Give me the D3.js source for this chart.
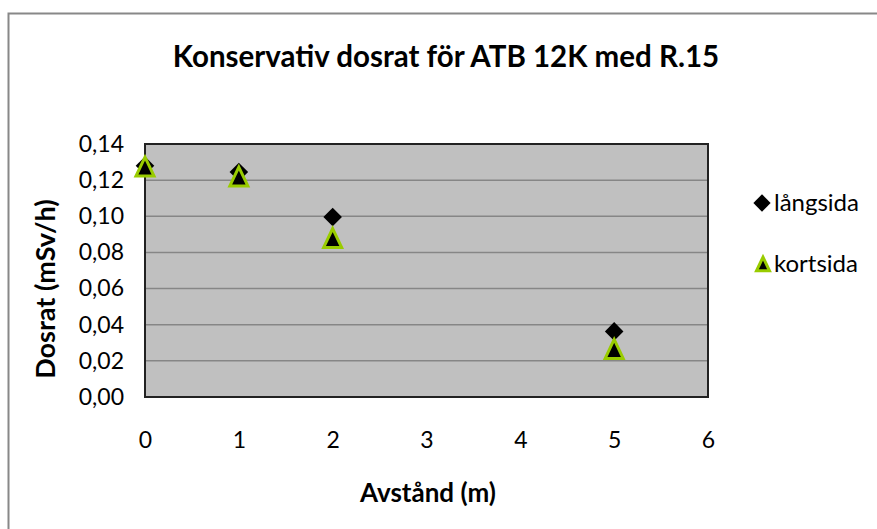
<!DOCTYPE html>
<html>
<head>
<meta charset="utf-8">
<script src="https://cdn.jsdelivr.net/npm/d3@7"></script>
<style>
body { margin:0; background:#fff; }
text { font-family: Lato, "Open Sans", sans-serif; }
</style>
</head>
<body>
<div id="chart"></div>
<script>
var width = 877;
var height = 529;

var distances = [0, 1, 2, 5];
var langsida = [0.128, 0.1245, 0.0996, 0.0363];
var kortsida = [0.1275, 0.122, 0.088, 0.0266];
var yTicks = [0, 0.02, 0.04, 0.06, 0.08, 0.10, 0.12, 0.14];
var xTicks = [0, 1, 2, 3, 4, 5, 6];
var seriesNames = ["långsida", "kortsida"];

var svg = d3.select("#chart").append("svg")
    .attr("width", width)
    .attr("height", height);

// outer chart border
svg.append("rect")
    .attr("x", 8.5).attr("y", 13.5)
    .attr("width", 880).attr("height", 530)
    .attr("fill", "#fff")
    .attr("stroke", "#888").attr("stroke-width", 2);

var xScale = d3.scaleLinear().domain([0, 6]).range([145, 708]);
var yScale = d3.scaleLinear().domain([0, 0.14]).range([397, 144]);

// plot area
svg.append("rect")
    .attr("x", xScale(0)).attr("y", yScale(0.14))
    .attr("width", xScale(6) - xScale(0))
    .attr("height", yScale(0) - yScale(0.14))
    .attr("fill", "#c0c0c0");

// gridlines
svg.selectAll(".grid")
    .data(yTicks.slice(1, -1))
    .enter().append("line")
    .attr("x1", xScale(0)).attr("x2", xScale(6))
    .attr("y1", function(d) { return yScale(d); })
    .attr("y2", function(d) { return yScale(d); })
    .attr("stroke", "#868686").attr("stroke-width", 1.5);

svg.append("rect")
    .attr("x", xScale(0)).attr("y", yScale(0.14))
    .attr("width", xScale(6) - xScale(0))
    .attr("height", yScale(0) - yScale(0.14))
    .attr("fill", "none")
    .attr("stroke", "#222").attr("stroke-width", 2);

// y axis
var yAxis = d3.axisLeft(yScale).tickValues(yTicks).tickSize(0).tickPadding(21)
    .tickFormat(function(d) { return d3.format(".2f")(d).replace(".", ","); });
var gy = svg.append("g").attr("transform", "translate(" + xScale(0) + ",0)").call(yAxis);
gy.select(".domain").remove();
gy.selectAll("text").style("font-size", "23px").attr("fill", "#000")
    .style("font-family", "Lato, sans-serif");

// x axis
var xAxis = d3.axisBottom(xScale).tickValues(xTicks).tickSize(0).tickPadding(35)
    .tickFormat(d3.format("d"));
var gx = svg.append("g").attr("transform", "translate(0," + yScale(0) + ")").call(xAxis);
gx.select(".domain").remove();
gx.selectAll("text").style("font-size", "23px").attr("fill", "#000")
    .style("font-family", "Lato, sans-serif");

// title and labels
svg.append("text")
    .attr("x", 446).attr("y", 67)
    .attr("text-anchor", "middle")
    .style("font-size", "29.5px").style("font-weight", "bold")
    .text("Konservativ dosrat för ATB 12K med R.15");

svg.append("text")
    .attr("x", 428).attr("y", 502)
    .attr("text-anchor", "middle")
    .style("font-size", "26px").style("font-weight", "bold")
    .text("Avstånd (m)");

svg.append("text")
    .attr("transform", "translate(55," + 289 + ") rotate(-90)")
    .attr("text-anchor", "middle")
    .style("font-size", "27px").style("font-weight", "bold")
    .text("Dosrat (mSv/h)");

var diamond = d3.symbol().type(d3.symbolDiamond2).size(220);
// taller-than-equilateral triangle, centred on its bounding box
var tallTriangle = {
    draw: function(context, size) {
        var w = Math.sqrt(size) / 2;
        var h = w * 1.05;
        context.moveTo(0, -h);
        context.lineTo(w, h);
        context.lineTo(-w, h);
        context.closePath();
    }
};
var triangle = d3.symbol().type(tallTriangle).size(324);

svg.selectAll(".lang")
    .data(distances)
    .enter().append("path")
    .attr("d", diamond)
    .attr("transform", function(d, i) { return "translate(" + xScale(d) + "," + yScale(langsida[i]) + ")"; })
    .attr("fill", "#000");

svg.selectAll(".kort")
    .data(distances)
    .enter().append("path")
    .attr("d", triangle)
    .attr("transform", function(d, i) { return "translate(" + xScale(d) + "," + yScale(kortsida[i]) + ")"; })
    .attr("fill", "#000")
    .attr("stroke", "#99cc00").attr("stroke-width", 3);

// legend
var legend = svg.append("g");
legend.append("path").attr("d", d3.symbol().type(d3.symbolDiamond2).size(190))
    .attr("transform", "translate(762,203)").attr("fill", "#000");
legend.append("path").attr("d", d3.symbol().type(tallTriangle).size(169))
    .attr("transform", "translate(763,264)")
    .attr("fill", "#000").attr("stroke", "#99cc00").attr("stroke-width", 3);
legend.selectAll("text")
    .data(seriesNames)
    .enter().append("text")
    .attr("x", 774)
    .attr("y", function(d, i) { return 211 + i * 61; })
    .style("font-size", "24px")
    .text(function(d) { return d; });
</script>
</body>
</html>
